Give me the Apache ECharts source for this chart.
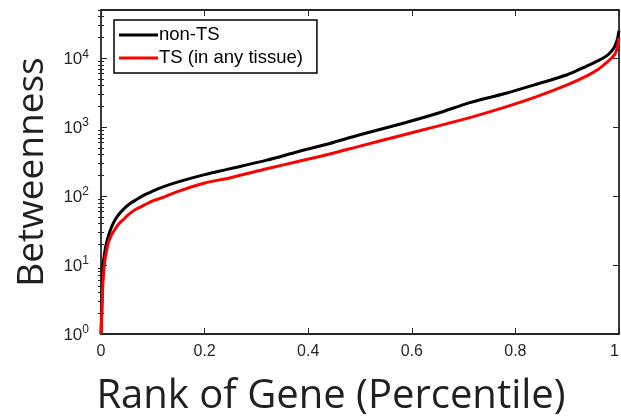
<!DOCTYPE html>
<html><head><meta charset="utf-8">
<script src="https://cdn.jsdelivr.net/npm/echarts@6/dist/echarts.min.js"></script>
<style>html,body{margin:0;padding:0;background:#fff}#c{width:621px;height:418px}</style>
</head><body><div id="c"></div>
<script>
const rank  = [0, 0.001, 0.002, 0.004, 0.007, 0.01, 0.014, 0.02, 0.027, 0.035, 0.045, 0.053, 0.065, 0.085, 0.1, 0.117, 0.149, 0.2, 0.25, 0.32, 0.38, 0.44, 0.5, 0.587, 0.65, 0.712, 0.78, 0.841, 0.9, 0.938, 0.96, 0.976, 0.985, 0.992, 0.997, 1];
const nonTS = [1, 1.8, 3.5, 10, 15, 20, 26, 35, 45, 55, 66, 75, 86, 105, 118, 134, 161, 205, 250, 332, 440, 575, 775, 1160, 1590, 2270, 3070, 4190, 5750, 7700, 9200, 10800, 12500, 15000, 19000, 25000];
const tsAny = [1, 1.5, 2.5, 6, 11, 15, 21, 27, 33, 40, 47, 54, 63, 75, 85, 94, 117, 155, 185, 249, 318, 405, 530, 784, 1035, 1372, 1950, 2770, 4100, 5530, 6900, 8650, 10000, 11400, 14500, 20000];
const seriesNames = ['non-TS', 'TS (in any tissue)'];
const yMajor = [1, 10, 100, 1000, 10000];
const yMinor = [];
yMajor.forEach(d => { for (let k = 2; k <= 9; k++) { if (d * k <= 50000) yMinor.push(d * k); } });

const AX = '#262626';
const axLine = {show: true, onZero: false, lineStyle: {color: AX, width: 1.8}};
const tick = (len, vals) => { const t = {show: true, inside: true, length: len, lineStyle: {color: AX, width: 1}}; if (vals) t.customValues = vals; return t; };
const logBase = {type: 'log', logBase: 10, min: 1, max: 50000, splitLine: {show: false}};

const chart = echarts.init(document.getElementById('c'), null, {renderer: 'canvas'});
chart.setOption({
  animation: false,
  backgroundColor: '#fff',
  grid: {left: 101, right: 2, top: 10, bottom: 84, containLabel: false, outerBoundsMode: 'none'},
  legend: {
    data: seriesNames, orient: 'vertical', left: 114, top: 20, icon: 'rect',
    backgroundColor: '#fff', borderColor: '#000', borderWidth: 1.5,
    padding: [5, 14, 5, 5], itemWidth: 39, itemHeight: 3, itemGap: 3,
    textStyle: {fontFamily: 'Liberation Sans', fontSize: 18.5, lineHeight: 20, color: '#000', padding: [0,0,0,-4]}
  },
  xAxis: [
    {type: 'value', min: 0, max: 1, interval: 0.2, position: 'bottom',
     axisLine: axLine, axisTick: tick(6), splitLine: {show: false},
     axisLabel: {fontFamily: 'Liberation Sans', fontSize: 16, color: AX, margin: 10, alignMaxLabel: 'right',
                 formatter: v => String(+v.toFixed(1))},
     name: 'Rank of Gene (Percentile)', nameLocation: 'middle', nameGap: 43,
     nameTextStyle: {fontFamily: 'Open Sans', fontSize: 40, color: '#231f20', padding: [0, 58, 0, 0]}},
    {type: 'value', min: 0, max: 1, interval: 0.2, position: 'top',
     axisLine: axLine, axisTick: tick(6), axisLabel: {show: false}, splitLine: {show: false}}
  ],
  yAxis: [
    Object.assign({}, logBase, {position: 'left', axisLine: axLine, axisTick: tick(6, yMajor),
      axisLabel: {customValues: yMajor, margin: 12, color: AX,
        formatter: v => '{a|10}{b|' + Math.round(Math.log10(v)) + '}',
        rich: {a: {fontFamily: 'Liberation Sans', fontSize: 17, color: AX, lineHeight: 20, verticalAlign: 'bottom'},
               b: {fontFamily: 'Liberation Sans', fontSize: 12, color: AX, lineHeight: 12, verticalAlign: 'top'}}},
      name: 'Betweenness', nameLocation: 'middle', nameGap: 50,
      nameTextStyle: {fontFamily: 'Open Sans', fontSize: 37, color: '#231f20'}}),
    Object.assign({}, logBase, {position: 'left', axisLine: {show: false}, axisTick: tick(3, yMinor), axisLabel: {show: false}}),
    Object.assign({}, logBase, {position: 'right', axisLine: axLine, axisTick: tick(6, yMajor), axisLabel: {show: false}}),
    Object.assign({}, logBase, {position: 'right', axisLine: {show: false}, axisTick: tick(3, yMinor), axisLabel: {show: false}})
  ],
  series: [
    {name: seriesNames[0], type: 'line', xAxisIndex: 0, yAxisIndex: 0, showSymbol: false, symbol: 'none',
     smooth: 0.3, color: '#000', lineStyle: {color: '#000', width: 3},
     data: rank.map((r, i) => [r, nonTS[i]])},
    {name: seriesNames[1], type: 'line', xAxisIndex: 0, yAxisIndex: 0, showSymbol: false, symbol: 'none',
     smooth: 0.3, color: '#ff0000', lineStyle: {color: '#ff0000', width: 3},
     data: rank.map((r, i) => [r, tsAny[i]])}
  ]
});
</script></body></html>
